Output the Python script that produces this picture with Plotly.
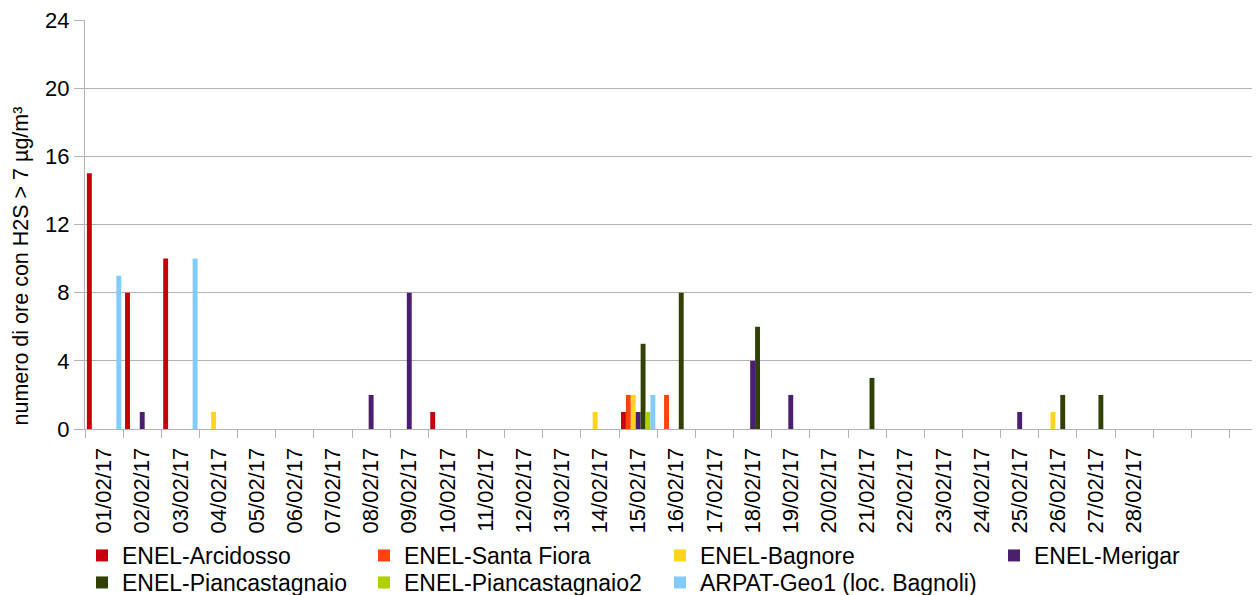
import plotly.graph_objects as go

dates = ["01/02/17", "02/02/17", "03/02/17", "04/02/17", "05/02/17", "06/02/17", "07/02/17",
         "08/02/17", "09/02/17", "10/02/17", "11/02/17", "12/02/17", "13/02/17", "14/02/17",
         "15/02/17", "16/02/17", "17/02/17", "18/02/17", "19/02/17", "20/02/17", "21/02/17",
         "22/02/17", "23/02/17", "24/02/17", "25/02/17", "26/02/17", "27/02/17", "28/02/17",
         "", ""]

arcidosso =       [15, 8, 10, 0, 0, 0, 0, 0, 0, 1, 0, 0, 0, 0, 1, 0, 0, 0, 0, 0, 0, 0, 0, 0, 0, 0, 0, 0, None, None]
santa_fiora =     [0, 0, 0, 0, 0, 0, 0, 0, 0, 0, 0, 0, 0, 0, 2, 2, 0, 0, 0, 0, 0, 0, 0, 0, 0, 0, 0, 0, None, None]
bagnore =         [0, 0, 0, 1, 0, 0, 0, 0, 0, 0, 0, 0, 0, 1, 2, 0, 0, 0, 0, 0, 0, 0, 0, 0, 0, 1, 0, 0, None, None]
merigar =         [0, 1, 0, 0, 0, 0, 0, 2, 8, 0, 0, 0, 0, 0, 1, 0, 0, 4, 2, 0, 0, 0, 0, 0, 1, 0, 0, 0, None, None]
piancastagnaio =  [0, 0, 0, 0, 0, 0, 0, 0, 0, 0, 0, 0, 0, 0, 5, 8, 0, 6, 0, 0, 3, 0, 0, 0, 0, 2, 2, 0, None, None]
piancastagnaio2 = [0, 0, 0, 0, 0, 0, 0, 0, 0, 0, 0, 0, 0, 0, 1, 0, 0, 0, 0, 0, 0, 0, 0, 0, 0, 0, 0, 0, None, None]
geo1 =            [9, 0, 10, 0, 0, 0, 0, 0, 0, 0, 0, 0, 0, 0, 2, 0, 0, 0, 0, 0, 0, 0, 0, 0, 0, 0, 0, 0, None, None]

series_names = ["ENEL-Arcidosso", "ENEL-Santa Fiora", "ENEL-Bagnore", "ENEL-Merigar",
                "ENEL-Piancastagnaio", "ENEL-Piancastagnaio2", "ARPAT-Geo1 (loc. Bagnoli)"]
series_values = [arcidosso, santa_fiora, bagnore, merigar, piancastagnaio, piancastagnaio2, geo1]
series_colors = ["#c5000b", "#ff420e", "#ffd320", "#4b1f6f", "#314004", "#aecf00", "#83caff"]

y_ticks = [0, 4, 8, 12, 16, 20, 24]
y_title = "numero di ore con H2S > 7 µg/m³"

# the page body has an 8px margin: work in page pixels and convert
OFF = 8
W, H = 1260 - OFF, 595 - OFF
ML, MT = 85 - OFF, 20 - OFF
MR = 0
MB = H - (429 - OFF)
PW = W - ML - MR
PH = H - MT - MB

def px_to_paper_x(px):
    return (px - OFF - ML) / PW

def px_to_paper_y(py):
    return (H - MB - (py - OFF)) / PH

xidx = list(range(len(dates)))
cat_w = 38.15
xmax = -0.5 + PW / cat_w

# legend entry placement (page pixels): column text start, row text centre
leg_cols = [123, 405, 701, 1035, 123, 405, 701]
leg_rows = [555, 555, 555, 555, 582, 582, 582]
LEG_FONT = 23
LEG_TEXT_DX = 41
LEG_TEXT_DY = 21

fig = go.Figure()
font = "Liberation Sans, Arial, sans-serif"
layout_legends = {}
for i, (name, vals, col) in enumerate(zip(series_names, series_values, series_colors)):
    lg = "legend" if i == 0 else f"legend{i + 1}"
    fig.add_trace(go.Bar(x=xidx, y=vals, name=name, marker=dict(color=col, line=dict(width=0)),
                         legend=lg, showlegend=True))
    layout_legends[lg] = dict(
        orientation="v", font=dict(family=font, size=LEG_FONT, color="black"),
        bgcolor="rgba(0,0,0,0)", borderwidth=0, yanchor="top", xanchor="left",
        x=px_to_paper_x(leg_cols[i] - LEG_TEXT_DX),
        y=px_to_paper_y(leg_rows[i] - LEG_TEXT_DY),
        visible=True,
    )

fig.update_layout(
    width=W, height=H,
    margin=dict(l=ML, r=MR, t=MT, b=MB, autoexpand=False),
    paper_bgcolor="white", plot_bgcolor="white",
    showlegend=True,
    barmode="group", bargap=0.1, bargroupgap=0,
    font=dict(family=font, size=22, color="black"),
    xaxis=dict(
        type="linear", range=[-0.5, xmax],
        tickmode="array", tickvals=xidx, ticktext=dates, tickangle=-90,
        ticks="", showgrid=False, zeroline=False,
        showline=True, linecolor="#b3b3b3", linewidth=1,
        ticklabelstandoff=9, ticklabeloverflow="allow",
        tickfont=dict(family=font, size=22, color="black"),
        minor=dict(ticks="outside", tick0=-0.5, dtick=1, ticklen=8, tickcolor="#b3b3b3",
                   tickwidth=1, showgrid=False),
    ),
    yaxis=dict(
        range=[0, 24], tickmode="array", tickvals=y_ticks,
        showgrid=True, gridcolor="#b3b3b3", gridwidth=1, zeroline=False,
        showline=True, linecolor="#b3b3b3", linewidth=1,
        ticks="outside", ticklen=10, tickcolor="#b3b3b3", ticklabeloverflow="allow",
        tickfont=dict(family=font, size=22, color="black"),
    ),
    annotations=[dict(
        text=y_title, textangle=-90, showarrow=False,
        xref="paper", yref="paper", x=px_to_paper_x(20), y=px_to_paper_y(266.5),
        xanchor="center", yanchor="middle",
        font=dict(family=font, size=21.5, color="black"),
    )],
    **layout_legends,
)

fig.write_html("out.html")
